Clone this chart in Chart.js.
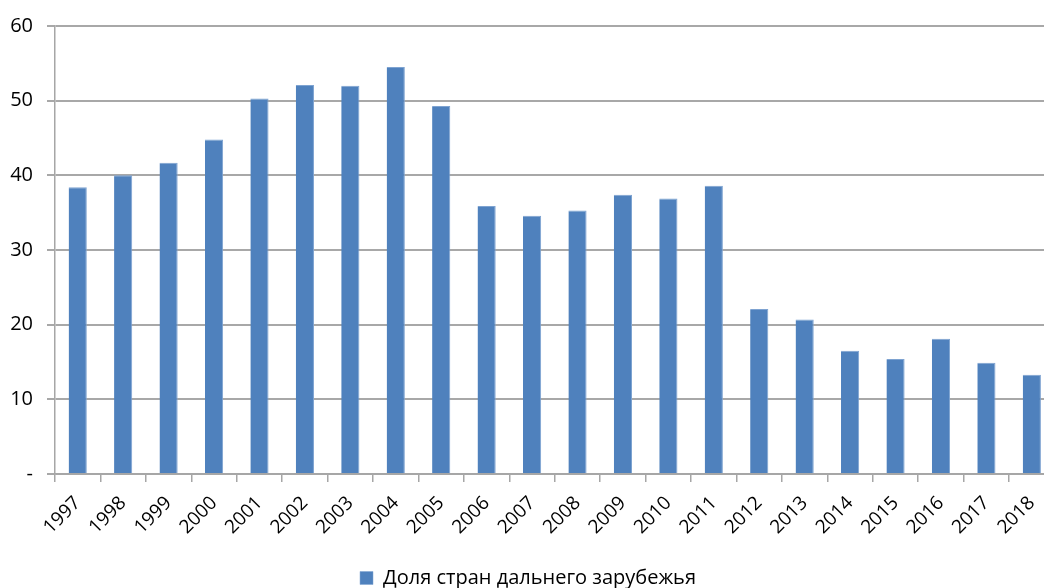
<!DOCTYPE html>
<html>
<head>
<meta charset="utf-8">
<script src="https://cdn.jsdelivr.net/npm/chart.js@4/dist/chart.umd.min.js"></script>
<style>
  html, body { margin: 0; padding: 0; background: #fff; overflow: hidden; }
  #wrap { width: 1044px; height: 588px; overflow: hidden; }
</style>
</head>
<body>
<div id="wrap"><canvas id="shareChart" width="1058" height="588"></canvas></div>
<script>
const years = ['1997','1998','1999','2000','2001','2002','2003','2004','2005','2006','2007',
  '2008','2009','2010','2011','2012','2013','2014','2015','2016','2017','2018'];
const farAbroadShare = [38.4, 40.0, 41.7, 44.8, 50.3, 52.1, 52.0, 54.5, 49.3, 35.9, 34.6,
  35.3, 37.4, 36.9, 38.6, 22.1, 20.7, 16.5, 15.4, 18.1, 14.9, 13.3];
const seriesLabel = 'Доля стран дальнего зарубежья';

const fontFamily = '"Open Sans", Lato, sans-serif';

const ctx = document.getElementById('shareChart').getContext('2d');
new Chart(ctx, {
  type: 'bar',
  data: {
    labels: years,
    datasets: [{
      label: seriesLabel,
      data: farAbroadShare,
      backgroundColor: '#4f81bd',
      borderColor: '#7ea3d1',
      borderWidth: { top: 1, right: 1, left: 0, bottom: 0 },
      barPercentage: 0.8,
      categoryPercentage: 0.5
    }]
  },
  options: {
    responsive: false,
    animation: false,
    layout: { padding: { top: 20, right: 2, left: 0, bottom: -10 } },
    plugins: {
      tooltip: { enabled: false },
      legend: {
        position: 'bottom',
        labels: {
          boxWidth: 13,
          boxHeight: 13,
          padding: 0,
          color: '#000',
          font: { family: fontFamily, size: 20 }
        }
      }
    },
    scales: {
      x: {
        offset: true,
        grid: {
          display: true,
          offset: true,
          drawOnChartArea: false,
          drawTicks: true,
          tickLength: 8,
          color: '#a6a6a6',
          lineWidth: 1.5
        },
        border: { display: true, color: '#a6a6a6', width: 1.5 },
        ticks: {
          minRotation: 45,
          maxRotation: 45,
          color: '#000',
          padding: 10,
          font: { family: fontFamily, size: 19 }
        },
        afterFit: scale => { scale.height = 94; }
      },
      y: {
        min: 0,
        max: 60,
        grid: {
          color: '#a8a8a8',
          lineWidth: 2,
          tickLength: 8
        },
        border: { display: true, color: '#a6a6a6', width: 1.5 },
        ticks: {
          stepSize: 10,
          color: '#000',
          padding: 14,
          font: { family: fontFamily, size: 20 },
          callback: v => v === 0 ? '-' : v
        },
        afterFit: scale => { scale.width = 55; }
      }
    }
  }
});
</script>
</body>
</html>
